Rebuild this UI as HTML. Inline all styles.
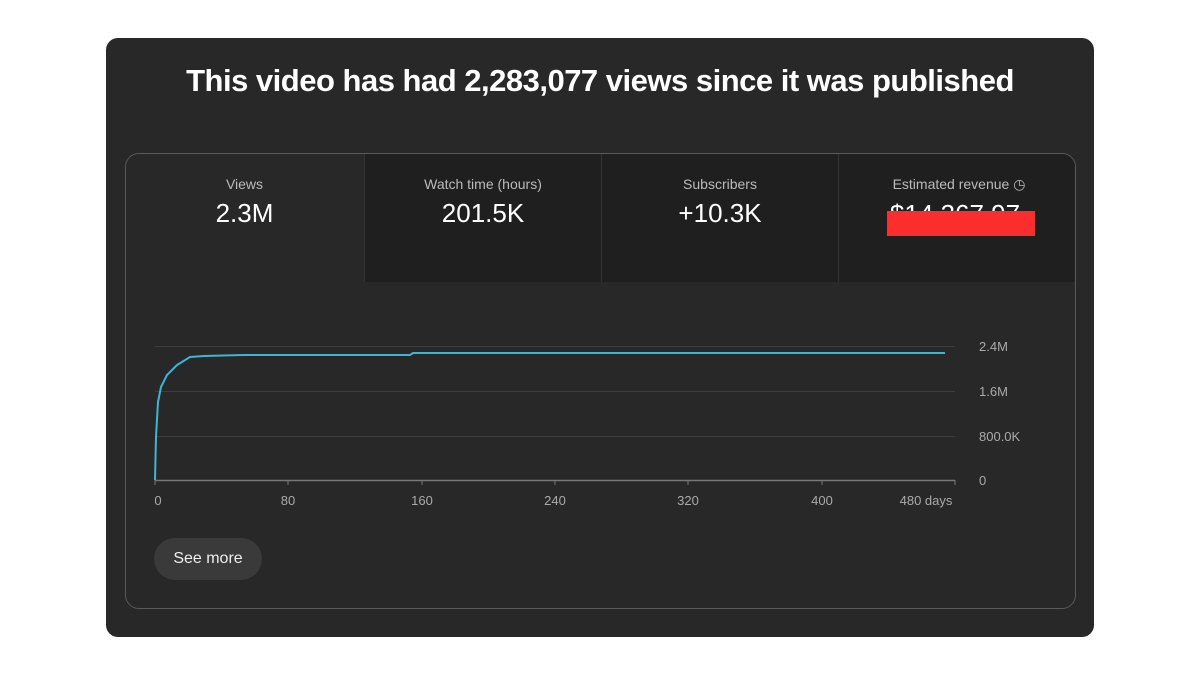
<!DOCTYPE html>
<html><head><style>
body{margin:0;width:1200px;height:675px;background:#fff;font-family:"Liberation Sans",sans-serif;position:relative;overflow:hidden}
.outer{position:absolute;left:106px;top:38px;width:988px;height:599px;background:#282828;border-radius:12px}
.title{position:absolute;left:0;right:0;top:63px;text-align:center;color:#fff;font-weight:bold;font-size:31px;letter-spacing:-0.5px}
.inner{position:absolute;left:125px;top:153px;width:949px;height:454px;border:1px solid #5a5a5a;border-radius:14px;overflow:hidden}
.tab{position:absolute;top:0;height:128px;text-align:center;color:#fff}
.tab .l{margin-top:22px;font-size:14px;color:#bbb}
.tab .v{margin-top:6px;font-size:26px}
.btn{position:absolute;left:154px;top:538px;width:108px;height:42px;border-radius:21px;background:#3a3a3a;color:#eee;font-size:16px;line-height:42px;text-align:center}
</style></head><body>
<div class="outer"></div>
<div class="title">This video has had 2,283,077 views since it was published</div>
<div class="inner">
 <div class="tab" style="left:0;width:237px;background:#282828"><div class="l">Views</div><div class="v">2.3M</div></div>
 <div class="tab" style="left:238px;width:236px;background:#1f1f1f;border-left:1px solid #333"><div class="l">Watch time (hours)</div><div class="v">201.5K</div></div>
 <div class="tab" style="left:475px;width:236px;background:#1f1f1f;border-left:1px solid #333"><div class="l">Subscribers</div><div class="v">+10.3K</div></div>
 <div class="tab" style="left:712px;width:240px;background:#1f1f1f;border-left:1px solid #333"><div class="l">Estimated revenue &#x25F7;</div><div class="v" style="margin-left:-8px">$14,267.97</div></div>
</div>
<div style="position:absolute;left:887px;top:211px;width:148px;height:25px;background:#fb2d2d"></div>
<svg style="position:absolute;left:0;top:0" width="1200" height="675">
 <g stroke="#3d3d3d" stroke-width="1">
  <line x1="155" y1="346.5" x2="955" y2="346.5"/><line x1="155" y1="391.5" x2="955" y2="391.5"/><line x1="155" y1="436.5" x2="955" y2="436.5"/>
 </g>
 <line x1="155" y1="480.5" x2="955" y2="480.5" stroke="#777" stroke-width="1.5"/>
 <g stroke="#777"><line x1="155" y1="480" x2="155" y2="485"/><line x1="288" y1="480" x2="288" y2="485"/><line x1="422" y1="480" x2="422" y2="485"/><line x1="555" y1="480" x2="555" y2="485"/><line x1="688" y1="480" x2="688" y2="485"/><line x1="822" y1="480" x2="822" y2="485"/><line x1="955" y1="480" x2="955" y2="485"/></g>
 <polyline fill="none" stroke="#41b4d4" stroke-width="2" points="155,480 156,437 158,402 161,387 167,375 177,365 190,357 204,356 243,355 410,355 413,353 945,353"/>
 <g fill="#aaa" font-size="13" font-family="Liberation Sans,sans-serif">
  <text x="979" y="351">2.4M</text><text x="979" y="396">1.6M</text><text x="979" y="441">800.0K</text><text x="979" y="485">0</text>
  <g text-anchor="middle"><text x="158" y="505">0</text><text x="288" y="505">80</text><text x="422" y="505">160</text><text x="555" y="505">240</text><text x="688" y="505">320</text><text x="822" y="505">400</text><text x="926" y="505">480 days</text></g>
 </g>
</svg>
<div class="btn">See more</div>
</body></html>
